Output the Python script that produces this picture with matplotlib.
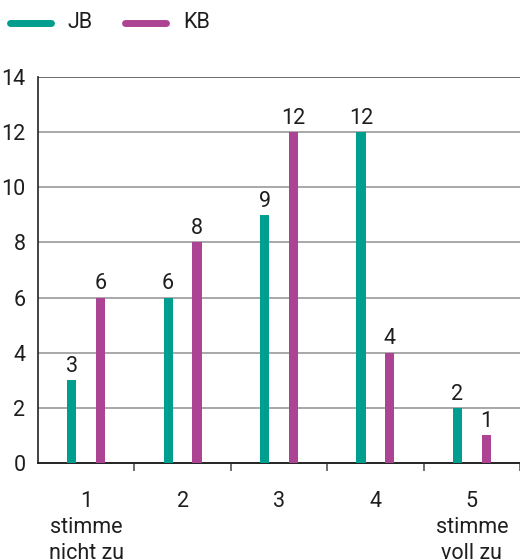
import matplotlib
matplotlib.use("Agg")
import matplotlib.pyplot as plt
import numpy as np
from matplotlib.lines import Line2D

categories = ["1", "2", "3", "4", "5"]
jb_values = [3, 6, 9, 12, 2]
kb_values = [6, 8, 12, 4, 1]
series_names = ["JB", "KB"]
yticks = [0, 2, 4, 6, 8, 10, 12, 14]
end_labels = {0: "stimme\nnicht zu", 4: "stimme\nvoll zu"}

teal = "#009E8F"
magenta = "#AD4493"
grid_col = "#9a9a9a"
txt = "#1e1e1e"

plt.rcParams['font.family'] = ['Roboto', 'DejaVu Sans']

W, H = 520, 559
fig = plt.figure(figsize=(W / 100, H / 100), dpi=100)
ax = fig.add_axes([38 / W, 1 - 463 / H, 482 / W, (463 - 77) / H])

x = np.arange(len(categories))
w = 0.095
off = 0.15
ax.bar(x - off, jb_values, width=w, color=teal, zorder=3)
ax.bar(x + off, kb_values, width=w, color=magenta, zorder=3)

for xi, v in zip(x - off, jb_values):
    ax.text(xi, v + 0.12, str(v), ha="center", va="bottom", fontsize=15.5, color=txt)
for xi, v in zip(x + off, kb_values):
    ax.text(xi, v + 0.12, str(v), ha="center", va="bottom", fontsize=15.5, color=txt)

ax.set_xlim(-0.5, len(categories) - 0.5)
ax.set_ylim(0, 14)
ax.set_yticks(yticks)
ax.set_yticklabels([str(t) for t in yticks], fontsize=15.5, color=txt)
ax.tick_params(axis="y", length=0, pad=9)
for t in yticks[1:]:
    ax.axhline(t, color=grid_col if t < 14 else "#555", lw=1.2, zorder=1)

# category boundary ticks on the x axis
ax.set_xticks(np.arange(len(categories)) + 0.5, minor=True)
ax.set_xticks(x)
ax.set_xticklabels(categories, fontsize=15.5, color=txt)
ax.tick_params(axis="x", which="major", length=0, pad=20)
ax.tick_params(axis="x", which="minor", length=6, width=1.2, color="#555", direction="out")

for xi, lab in end_labels.items():
    ax.text(xi, -1.95, lab, ha="center", va="top", fontsize=15.5, color=txt,
            linespacing=1.32, clip_on=False)

for s in ["top", "right"]:
    ax.spines[s].set_visible(False)
ax.spines["left"].set_color("#222")
ax.spines["bottom"].set_color("#222")
ax.spines["left"].set_linewidth(1.2)
ax.spines["bottom"].set_linewidth(1.4)

# legend drawn in figure pixel positions
legend_colors = [teal, magenta]
legend_x = [10, 125]
for name, col, lx in zip(series_names, legend_colors, legend_x):
    fig.add_artist(Line2D([lx / W, (lx + 41) / W], [1 - 23 / H, 1 - 23 / H],
                          color=col, lw=5, solid_capstyle="round",
                          transform=fig.transFigure))
    fig.text((lx + 58) / W, 1 - 23 / H, name, ha="left", va="center",
             fontsize=15.5, color=txt)

fig.savefig("out.png", dpi=100)
